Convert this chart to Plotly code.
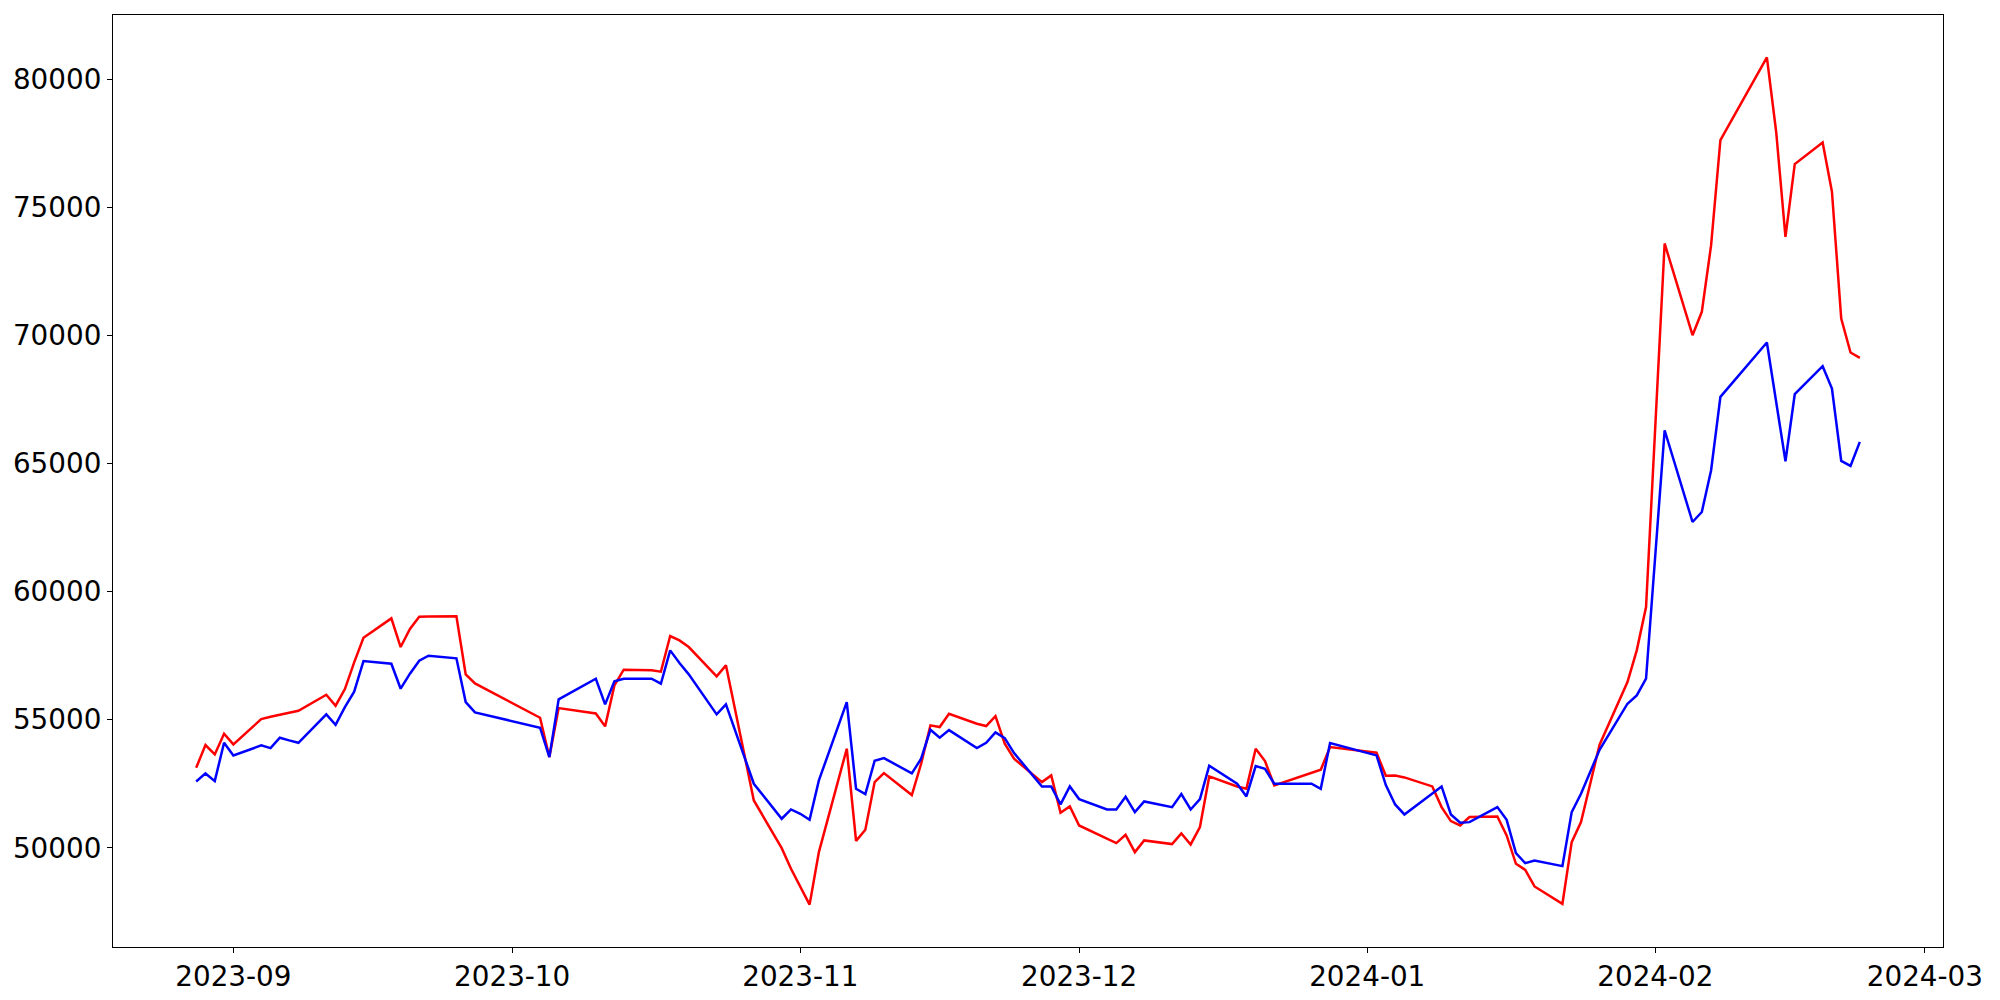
import pandas as pd
import plotly.graph_objects as go

dates = [
    "2023-08-28", "2023-08-29", "2023-08-30", "2023-08-31", "2023-09-01",
    "2023-09-04", "2023-09-05", "2023-09-06", "2023-09-07", "2023-09-08",
    "2023-09-11", "2023-09-12", "2023-09-13", "2023-09-14", "2023-09-15",
    "2023-09-18", "2023-09-19", "2023-09-20", "2023-09-21", "2023-09-22",
    "2023-09-25", "2023-09-26", "2023-09-27",
    "2023-10-04", "2023-10-05", "2023-10-06",
    "2023-10-10", "2023-10-11", "2023-10-12", "2023-10-13",
    "2023-10-16", "2023-10-17", "2023-10-18", "2023-10-19", "2023-10-20",
    "2023-10-23", "2023-10-24", "2023-10-27",
    "2023-10-30", "2023-10-31", "2023-11-01", "2023-11-02", "2023-11-03",
    "2023-11-06", "2023-11-07", "2023-11-08", "2023-11-09", "2023-11-10",
    "2023-11-13", "2023-11-14", "2023-11-15", "2023-11-16", "2023-11-17",
    "2023-11-20", "2023-11-21", "2023-11-22", "2023-11-23", "2023-11-24",
    "2023-11-27", "2023-11-28", "2023-11-29", "2023-11-30", "2023-12-01",
    "2023-12-04", "2023-12-05", "2023-12-06", "2023-12-07", "2023-12-08",
    "2023-12-11", "2023-12-12", "2023-12-13", "2023-12-14", "2023-12-15",
    "2023-12-18", "2023-12-19", "2023-12-20", "2023-12-21", "2023-12-22",
    "2023-12-26", "2023-12-27", "2023-12-28",
    "2024-01-02", "2024-01-03", "2024-01-04", "2024-01-05",
    "2024-01-08", "2024-01-09", "2024-01-10", "2024-01-11", "2024-01-12",
    "2024-01-15", "2024-01-16", "2024-01-17", "2024-01-18", "2024-01-19",
    "2024-01-22", "2024-01-23", "2024-01-24", "2024-01-25", "2024-01-26",
    "2024-01-29", "2024-01-30", "2024-01-31",
    "2024-02-02",
    "2024-02-05", "2024-02-06", "2024-02-07", "2024-02-08",
    "2024-02-13", "2024-02-14", "2024-02-15", "2024-02-16",
    "2024-02-19", "2024-02-20", "2024-02-21", "2024-02-22", "2024-02-23",
]

red_values = [
    53124, 54010, 53645, 54452, 54036,
    55025, 55116, 55207, 55272, 55351,
    55975, 55546, 56197, 57238, 58202,
    58957, 57837, 58540, 59022, 59030,
    59035, 56770, 56418,
    55077, 53541, 55455,
    55246, 54739, 56340, 56952,
    56926, 56874, 58267, 58098, 57837,
    56692, 57122, 51848,
    49986, 49179, 48463, 47780, 49830,
    53866, 50270, 50702, 52564, 52916,
    52057, 53280, 54778, 54712, 55233,
    54843, 54752, 55142, 54062, 53476,
    52564, 52825, 51366, 51614, 50871,
    50351, 50182, 50507, 49830, 50286,
    50143, 50559, 50130, 50807, 52786,
    52395, 52304, 53866, 53385, 52434,
    52922, 53046, 53931,
    53710, 52812, 52825, 52747,
    52395, 51587, 51040, 50871, 51197,
    51223, 50481, 49374, 49139, 48489,
    47812, 50221, 51002, 52512, 54022,
    56470, 57707, 59398,
    73593,
    70013, 70924, 73528, 77630,
    80859, 77955, 73854, 76692,
    77539, 75612, 70664, 69336, 69128,
]

blue_values = [
    52590, 52903, 52603, 54100, 53606,
    53996, 53892, 54296, 54192, 54100,
    55207, 54804, 55493, 56093, 57290,
    57186, 56210, 56796, 57303, 57499,
    57395, 55689, 55285,
    54687, 53541, 55793,
    56600, 55598, 56496, 56600,
    56600, 56405, 57707, 57212, 56770,
    55208, 55598, 52499,
    51133, 51497, 51328, 51093, 52629,
    55689, 52304, 52096, 53398, 53502,
    52903, 53476, 54608, 54296, 54595,
    53892, 54100, 54504, 54283, 53697,
    52395, 52395, 51692, 52395, 51900,
    51496, 51496, 51991, 51392, 51809,
    51587, 52096, 51496, 51900, 53202,
    52499, 52004, 53189, 53085, 52499,
    52499, 52304, 54088,
    53606, 52450, 51692, 51301,
    52122, 52395, 51301, 50975, 51001,
    51587, 51092, 49791, 49400, 49504,
    49283, 51392, 52108, 52955, 53827,
    55625, 55949, 56602,
    66301,
    62719, 63110, 64740, 67604,
    69727, 67474, 65091, 67708,
    68802, 67930, 65105, 64910, 65847,
]

x_tick_values = ["2023-09-01", "2023-10-01", "2023-11-01", "2023-12-01",
                 "2024-01-01", "2024-02-01", "2024-03-01"]
x_tick_labels = ["2023-09", "2023-10", "2023-11", "2023-12",
                 "2024-01", "2024-02", "2024-03"]
y_tick_values = [50000, 55000, 60000, 65000, 70000, 75000, 80000]

x = pd.to_datetime(dates)

# matplotlib-style 5% autoscale margins
x0, x1 = x.min(), x.max()
xpad = (x1 - x0) * 0.05
x_range = [x0 - xpad, x1 + xpad]
all_vals = red_values + blue_values
ymin, ymax = min(all_vals), max(all_vals)
ypad = (ymax - ymin) * 0.05
y_range = [ymin - ypad, ymax + ypad]

fig = go.Figure()
fig.add_trace(go.Scatter(x=x, y=red_values, mode="lines",
                         line=dict(color="red", width=2.5), showlegend=False))
fig.add_trace(go.Scatter(x=x, y=blue_values, mode="lines",
                         line=dict(color="blue", width=2.5), showlegend=False))

axis_common = dict(
    showline=True, mirror=True, linecolor="black", linewidth=1.1,
    showgrid=False, zeroline=False, automargin=False,
    ticks="outside", ticklen=5, tickwidth=1.1, tickcolor="black",
    tickfont=dict(family="DejaVu Sans", size=27.8, color="black"),
)

fig.update_xaxes(range=x_range, tickvals=pd.to_datetime(x_tick_values),
                 ticktext=x_tick_labels, **axis_common)
fig.update_yaxes(range=y_range, tickvals=y_tick_values,
                 ticktext=[str(v) for v in y_tick_values], **axis_common)

# page body has an 8px default margin; compensate so the plot area
# lands where the reference's axes sit in the 2000x1000 window
fig.update_layout(
    width=1992, height=992,
    margin=dict(l=105, r=57, t=7, b=53),
    paper_bgcolor="white", plot_bgcolor="white",
    font=dict(family="DejaVu Sans", color="black"),
)

fig.write_html("out.html")
